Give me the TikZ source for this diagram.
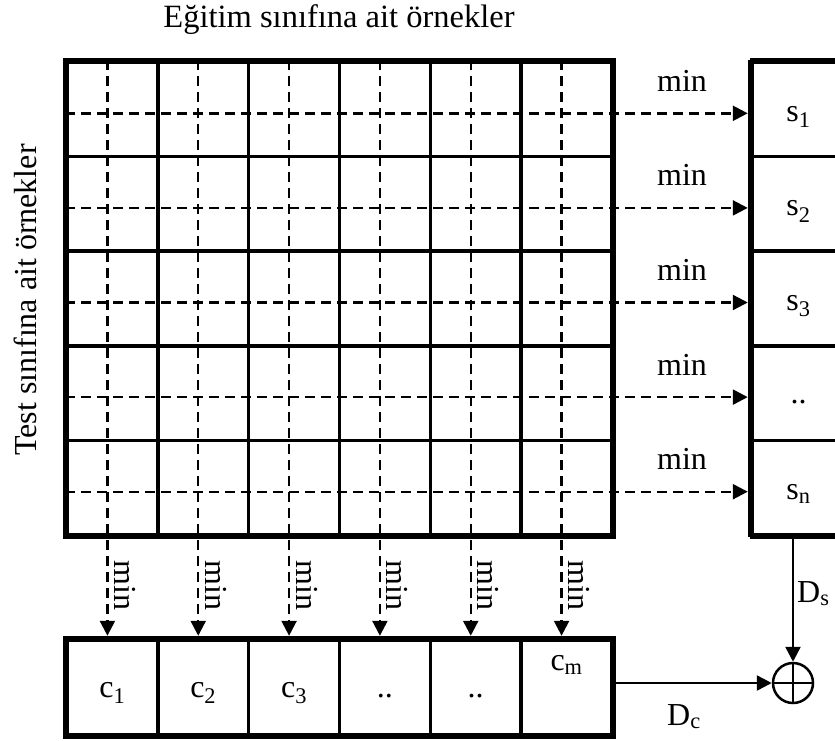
\documentclass[tikz,border=0pt]{standalone}
\usepackage{fontspec}
\setmainfont{Liberation Serif}
\usetikzlibrary{arrows.meta,calc}
\begin{document}
\begin{tikzpicture}[x=1pt,y=-1pt,
  lbl/.style={font=\fontsize{32}{38}\selectfont, inner sep=0pt},
  gridcell/.style={draw, line width=3.5pt, minimum width=90.83pt, minimum height=94.6pt, inner sep=0pt},
  sbox/.style={draw, line width=3.5pt, minimum width=93pt, minimum height=94.6pt, inner sep=0pt},
  cbox/.style={draw, line width=3.5pt, minimum width=90.83pt, minimum height=95pt, inner sep=0pt},
  dasharrow/.style={line width=2.4pt, dash pattern=on 10pt off 6pt, -{Triangle[length=15pt,width=15pt]}, shorten >=2.5pt},
  solidarrow/.style={line width=2.5pt, -{Triangle[length=15pt,width=15pt]}},
]
\useasboundingbox (0,0) rectangle (835,740);

% title texts
\node[lbl, anchor=base] (title) at (339,27) {\fontsize{32.5}{38}\selectfont Eğitim sınıfına ait örnekler};
\node[lbl, anchor=base, rotate=90] (side) at (36,300) {Test sınıfına ait örnekler};

% grid
\foreach \r in {1,...,5}{
  \foreach \c in {1,...,6}{
    \node[gridcell] (g-\r-\c) at ({67+90.83*(\c-0.5)},{62+94.6*(\r-0.5)}) {};
  }
}
\draw[line width=4.5pt] (g-1-1.north west) rectangle (g-5-6.south east);

% right column boxes
\foreach \r in {1,...,5}{
  \node[sbox] (s\r) at (798.5,{62+94.6*(\r-0.5)}) {};
}
\draw[line width=5.5pt] (s1.north west) -- (s5.south west);
\draw[line width=4.5pt] (s1.north west) -- (s1.north east);
\draw[line width=4.5pt] (s5.south west) -- (s5.south east);

\path (s1.center) ++(0,12) node[lbl, anchor=base] (t-s1) {s\textsubscript{1}};
\path (s2.center) ++(0,12) node[lbl, anchor=base] (t-s2) {s\textsubscript{2}};
\path (s3.center) ++(0,12) node[lbl, anchor=base] (t-s3) {s\textsubscript{3}};
\path (s4.center) ++(0,10) node[lbl, anchor=base] (t-s4) {..};
\path (s5.center) ++(0,12) node[lbl, anchor=base] (t-s5) {s\textsubscript{n}};

% bottom boxes
\foreach \c in {1,...,6}{
  \node[cbox] (c\c) at ({67+90.83*(\c-0.5)},687.5) {};
}
\draw[line width=4pt] (c1.north west) rectangle (c6.south east);
\path (c1.center) ++(0,10) node[lbl, anchor=base] (t-c1) {c\textsubscript{1}};
\path (c2.center) ++(0,10) node[lbl, anchor=base] (t-c2) {c\textsubscript{2}};
\path (c3.center) ++(0,10) node[lbl, anchor=base] (t-c3) {c\textsubscript{3}};
\path (c4.center) ++(0,10) node[lbl, anchor=base] (t-c4) {..};
\path (c5.center) ++(0,10) node[lbl, anchor=base] (t-c5) {..};
\path (c6.center) ++(0,-17) node[lbl, anchor=base] (t-c6) {c\textsubscript{m}};

% horizontal dashed arrows
\foreach \r in {1,...,5}{
  \coordinate (h\r) at ([yshift=-4pt]g-\r-1.west);
  \coordinate (m\r) at ($(g-\r-6.east)!0.5!(s\r.west)$);
  \draw[dasharrow] (h\r) -- (h\r -| s\r.west);
  \path (m\r |- h\r) ++(0,-22) node[lbl, anchor=base] (hm\r) {min};
}

% vertical dashed arrows
\foreach \c in {1,...,6}{
  \coordinate (v\c) at ([xshift=-5pt]g-1-\c.north);
  \draw[dasharrow] (v\c) -- (v\c |- c\c.north);
  \path (v\c) ++(7,525) node[lbl, anchor=base, rotate=-90] (vm\c) {min};
}

% sum
\node[draw, circle, line width=2.5pt, minimum size=40pt, inner sep=0pt] (sum) at (793,683) {};
\draw[line width=2.5pt] (sum.north) -- (sum.south) (sum.west) -- (sum.east);
\draw[solidarrow] (s5.south -| sum) -- (sum.north);
\draw[solidarrow] (c6.east |- sum) -- (sum.west);
\node[lbl, anchor=base west] (ds) at (797,602) {D\textsubscript{s}};
\node[lbl, anchor=base west] (dc) at (667,725) {D\textsubscript{c}};
\end{tikzpicture}
\end{document}
